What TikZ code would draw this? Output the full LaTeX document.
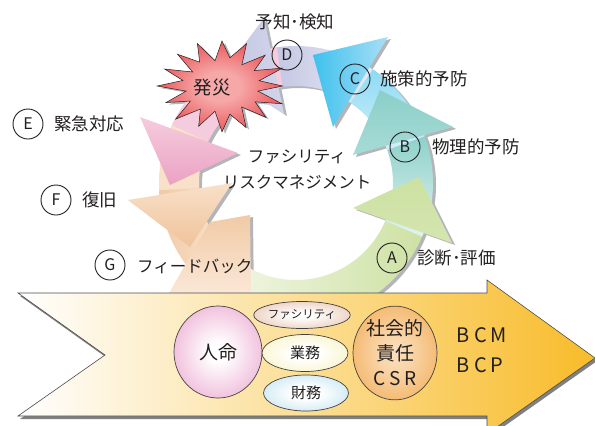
\documentclass[tikz,border=0pt]{standalone}
\usepackage{fontspec}
\setmainfont{Noto Sans CJK JP}
\usetikzlibrary{calc,shapes.geometric}
\definecolor{txt}{HTML}{231F20}
\definecolor{shad}{HTML}{B4B5B9}
\definecolor{aG}{HTML}{CDE1A2}
\definecolor{aGl}{HTML}{F4F8EA}
\definecolor{bT}{HTML}{8ACFC8}
\definecolor{bTl}{HTML}{E2F3F1}
\definecolor{cB}{HTML}{3EC1EE}
\definecolor{cBl}{HTML}{A9DFF5}
\definecolor{dL}{HTML}{C3C6E3}
\definecolor{dLl}{HTML}{E9EAF5}
\definecolor{eP}{HTML}{EBA2C3}
\definecolor{ePl}{HTML}{F5CCDD}
\definecolor{fO}{HTML}{F0C39A}
\definecolor{fOl}{HTML}{F8E0C9}
\definecolor{gO}{HTML}{F1CAA5}
\definecolor{gOl}{HTML}{FBEADB}
\definecolor{starR}{HTML}{E4262B}
\definecolor{starC}{HTML}{F6A8A8}
\definecolor{arrY}{HTML}{F8BC2A}
\definecolor{arrM}{HTML}{FDE29A}
\definecolor{pinkE}{HTML}{E27DB8}
\definecolor{tanE}{HTML}{DCA888}
\definecolor{yelE}{HTML}{F2EC9A}
\definecolor{bluE}{HTML}{9FD3EA}
\definecolor{orgE}{HTML}{EF9526}
\pgfdeclareradialshading{ballpink}{\pgfpoint{0bp}{0bp}}{color(0bp)=(white); color(5bp)=(white); color(48bp)=(pinkE); color(50bp)=(pinkE)}
\pgfdeclareradialshading{balltan}{\pgfpoint{0bp}{0bp}}{color(0bp)=(white); color(5bp)=(white); color(48bp)=(tanE); color(50bp)=(tanE)}
\pgfdeclareradialshading{ballyel}{\pgfpoint{0bp}{0bp}}{color(0bp)=(white); color(8bp)=(white); color(48bp)=(yelE); color(50bp)=(yelE)}
\pgfdeclareradialshading{ballblu}{\pgfpoint{0bp}{0bp}}{color(0bp)=(white); color(8bp)=(white); color(48bp)=(bluE); color(50bp)=(bluE)}
\pgfdeclareradialshading{ballorg}{\pgfpoint{0bp}{0bp}}{color(0bp)=(orgE!30); color(10bp)=(orgE!40); color(48bp)=(orgE); color(50bp)=(orgE)}
\pgfdeclareradialshading{starshade}{\pgfpoint{0bp}{0bp}}{color(0bp)=(starC); color(8bp)=(starC); color(36bp)=(starR); color(50bp)=(starR)}
\newcommand\rout{137}
\newcommand\rin{97}
\newcommand\ringband[2]{(#1:\rout) arc[start angle=#1,end angle=#2,radius=\rout] -- (#2:\rin) arc[start angle=#2,end angle=#1,radius=\rin] -- cycle}
\newcommand\starpath{plot[samples at={0,...,31}, variable=\k] ({222+63*(0.80+0.20*cos(\k*180)+0.04*sin(\k*77))*cos(\k*11.25-90)}, {86+45*(0.80+0.20*cos(\k*180)+0.04*sin(\k*77))*sin(\k*11.25-90)}) -- cycle}
\newcommand\headA{(353,208) -- (419,177) -- (452,243) -- cycle}
\newcommand\headB{(453,127) -- (380,90) -- (353,155) -- cycle}
\newcommand\headC{(388,37) -- (313,55) -- (333,127) -- cycle}
\newcommand\headD{(264,18) -- (222,74) -- (284,114) -- cycle}
\newcommand\headE{(140,117) -- (170,185) -- (238,153) -- cycle}
\newcommand\headF{(128,200) -- (190,247) -- (232,183) -- cycle}
\newcommand\headG{(210,222) -- (250,215) -- (251,300) -- (165,300) -- cycle}
\newcommand\bigarrow{(18,293) -- (487,293) -- (487,280) -- (595,358) -- (487,434) -- (487,416) -- (18,416) -- (105,355) -- cycle}
\begin{document}
\begin{tikzpicture}[x=1pt,y=-1pt,
  lbl/.style={font=\fontsize{17.5}{20}\selectfont, text=txt, anchor=west, inner sep=0pt},
  circ/.style={draw=txt, line width=0.9pt, circle, minimum size=30pt, inner sep=0pt, font=\fontsize{16}{16}\selectfont, text=txt},
  oval/.style={ellipse, draw=txt!85, line width=0.7pt, shade, inner sep=0pt, text=txt}]
\useasboundingbox (0,0) rectangle (595,426);
% shadows of the cycle
\begin{scope}[shift={(299,185)}]
  \fill[shad] \ringband{128}{-204};
\end{scope}
\begin{scope}[shift={(3,2)}]
  \fill[shad] \headG; \fill[shad] \headA; \fill[shad] \headB; \fill[shad] \headC;
  \fill[shad] \headD; \fill[shad] \headE; \fill[shad] \headF;
  \fill[shad] \starpath;
\end{scope}
% bands
\begin{scope}[shift={(296,183)}]
  \shade[left color=aGl, right color=aG] \ringband{128}{19};
  \shade[top color=bT, bottom color=bTl] \ringband{23}{-22};
  \shade[top color=cB!60, bottom color=cBl!50] \ringband{-20}{-58};
  \shade[left color=dL, right color=dLl] \ringband{-56}{-100};
  \fill[ePl] \ringband{-98}{-156};
  \fill[fOl] \ringband{205}{175};
  \shade[left color=gO, right color=gOl] \ringband{177}{125};
\end{scope}
% heads
\shade[top color=gO, bottom color=gOl] \headG;
\shade[top color=aG, bottom color=aG!85] \headA;
\shade[top color=bT, bottom color=bT!75] \headB;
\shade[left color=cB, right color=cBl] \headC;
\shade[left color=dL, right color=dL!75] \headD;
\shade[top color=ePl, bottom color=eP] \headE;
\shade[top color=fOl, bottom color=fO] \headF;
% star
\shadedraw[shading=starshade, draw=txt, line width=0.5pt] \starpath;
\node[font=\fontsize{18.5}{20}\selectfont, text=txt] (hassai) at (212,88) {発災};
% center text
\node[font=\fontsize{16.5}{26}\selectfont, text=txt, align=center] (center) at (297,170) {ファシリティ\\リスクマネジメント};
% labels
\node[circ] (cA) at (392,258) {A};
\node[lbl] (tA) at (417,258) {診断･評価};
\node[circ] (cB) at (405,147) {B};
\node[lbl] (tB) at (432,147) {物理的予防};
\node[circ] (cC) at (355,79) {C};
\node[lbl] (tC) at (380,79) {施策的予防};
\node[circ] (cD) at (287,55) {D};
\node[font=\fontsize{17.5}{20}\selectfont, text=txt] (tD) at (295,22) {予知･検知};
\node[circ] (cE) at (28,124) {E};
\node[lbl] (tE) at (54,124) {緊急対応};
\node[circ] (cF) at (56,200) {F};
\node[lbl] (tF) at (82,200) {復旧};
\node[circ] (cG) at (110,265) {G};
\node[lbl, font=\fontsize{16.5}{20}\selectfont] (tG) at (137,266) {フィードバック};
% big arrow
\fill[black!50, shift={(2,3)}] \bigarrow;
\shade[left color=white, middle color=arrM, right color=arrY] \bigarrow;
\draw[black!70, line width=0.6pt] \bigarrow;
% ovals
\node[oval, shading=ballpink, minimum width=88pt, minimum height=92pt, font=\fontsize{19}{20}\selectfont] (jinmei) at (218,352) {人命};
\node[oval, shading=balltan, minimum width=86pt, minimum height=27pt, font=\fontsize{11.5}{12}\selectfont] (fac) at (302,315) {ファシリティ};
\node[oval, shading=ballyel, minimum width=86pt, minimum height=37pt, font=\fontsize{15}{16}\selectfont] (gyomu) at (305,353) {業務};
\node[oval, shading=ballblu, minimum width=85pt, minimum height=36pt, font=\fontsize{15}{16}\selectfont] (zaimu) at (306,393) {財務};
\node[oval, shading=ballorg, minimum width=84pt, minimum height=88pt, align=center, font=\fontsize{19}{25}\selectfont] (csr) at (395,353) {社会的\\責任\\C\hspace{4pt}S\hspace{4pt}R};
\node[font=\fontsize{20}{30}\selectfont, text=txt, align=left] (bcm) at (482,350) {B\hspace{4pt}C\hspace{4pt}M\\B\hspace{4pt}C\hspace{4pt}P};
\end{tikzpicture}
\end{document}
